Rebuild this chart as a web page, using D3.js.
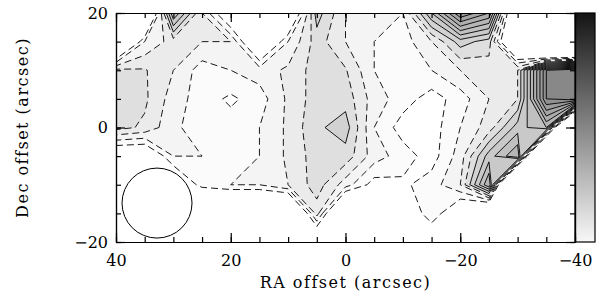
<!DOCTYPE html>
<meta charset="utf-8">
<style>
body { margin: 0; background: #fff; }
text { font-family: "DejaVu Serif", serif; font-size: 16px; fill: #000; }
.title { letter-spacing: 1.5px; }
.band-line { fill: none; stroke: #000; stroke-width: 0.9; }
.frame path, .frame line { stroke: #000; stroke-width: 1.2; }
</style>
<svg width="613" height="295"></svg>
<script src="https://d3js.org/d3.v7.min.js"></script>
<script>

// map grid: RA offsets (columns) and Dec offsets (rows), arcsec
var raOffsets = [40, 35, 30, 25, 20, 15, 10, 5, 0, -5, -10, -15, -20, -25, -30, -35, -40];
var decOffsets = [20, 15, 10, 5, 0, -5, -10, -15, -20];

// intensity per row (values well below -4 are outside the mapped area)
var dec20  = [-9, -9, 3, -2, -6, -9, -7, 0.5, -2, -3, -3, 2, 7, 5, -9, -9, -9];
var dec15  = [-9, -3, -1.5, -2, -2, -7, -3, -0.5, -2, -3, -3.5, -2, 0.5, -0.5, -9, -20, -20];
var dec10  = [-0.7, -0.9, -2, -3.5, -3, -2.5, -1.8, -0.5, -0.9, -3, -3.5, -3, -2, -1.5, -1, 8, 9];
var dec5   = [-0.5, -0.8, -2.5, -3.5, -4.2, -3.5, -1.8, -0.5, -0.4, -2.5, -3.5, -4.5, -3.5, -2, -1, 8, 9];
var dec0   = [-0.6, -1.2, -2.8, -3.5, -3.5, -3, -1.8, -0.2, 0.5, -3, -4.5, -4.5, -3, -1.5, 1.5, 3, -20];
var decm5  = [-6, -6, -3, -3, -3.5, -3, -1.8, -0.5, -0.4, -2.5, -3.5, -4.5, -2.5, 1.5, 4, -20, -20];
var decm10 = [-9, -9, -6, -3.5, -3, -3, -2, -0.5, -2.5, -4.5, -4.2, -3.5, -2, 4, -20, -20, -20];
var decm15 = [-9, -9, -9, -9, -9, -9, -9, -1.5, -9, -9, -6, -3, -6, -9, -9, -9, -9];
var decm20 = [-9, -9, -9, -9, -9, -9, -9, -7, -9, -9, -9, -6, -9, -9, -9, -9, -9];

var levels = [-4, -3, -2, -1, 0, 1, 2, 3, 4, 5, 6, 7, 8];

var beamCenter = [32.85, -13.2];
var beamRadius = 6.1;

var xMajor = [40, 20, 0, -20, -40];
var yMajor = [20, 0, -20];

var svg = d3.select("svg"),
    plotL = 116, plotR = 575, plotT = 13, plotB = 242;

var x = d3.scaleLinear().domain([40, -40]).range([plotL, plotR]);
var y = d3.scaleLinear().domain([20, -20]).range([plotT, plotB]);

var grid = [dec20, dec15, dec10, dec5, dec0, decm5, decm10, decm15, decm20];
var nx = raOffsets.length, ny = decOffsets.length;
var values = [].concat.apply([], grid);

var col = d3.scaleLinear().domain([0, nx - 1]).range([x(raOffsets[0]), x(raOffsets[nx - 1])]);
var row = d3.scaleLinear().domain([0, ny - 1]).range([y(decOffsets[0]), y(decOffsets[ny - 1])]);

function ringPath(ring) {
  return "M" + ring.map(p => col(p[0] - 0.5) + "," + row(p[1] - 0.5)).join("L") + "Z";
}
function bandPath(d) {
  return d.coordinates.map(poly => poly.map(ringPath).join("")).join("");
}

var bands = d3.contours().size([nx, ny]).thresholds(levels)(values);

var gray = d3.scaleLinear()
    .domain([-4, -3, -2, -1, 0, 8])
    .range(["#fbfbfb", "#f4f4f4", "#ebebeb", "#dfdfdf", "#d2d2d2", "#888888"]);

svg.append("clipPath").attr("id", "plot")
  .append("rect")
    .attr("x", plotL).attr("y", plotT)
    .attr("width", plotR - plotL).attr("height", plotB - plotT);

var map = svg.append("g").attr("clip-path", "url(#plot)");

map.selectAll("path.band")
  .data(bands)
  .join("path")
    .attr("class", "band")
    .attr("d", bandPath)
    .attr("fill", d => gray(d.value));

map.selectAll("path.band-line")
  .data(bands)
  .join("path")
    .attr("class", "band-line")
    .attr("d", bandPath)
    .attr("stroke-dasharray", d => d.value < 0 ? "7,4" : null);

// beam
svg.append("circle")
    .attr("cx", x(beamCenter[0]))
    .attr("cy", y(beamCenter[1]))
    .attr("r", x(40 - beamRadius) - x(40))
    .attr("fill", "none")
    .attr("stroke", "#000")
    .attr("stroke-width", 1);

// colour bar
var grad = svg.append("defs").append("linearGradient")
    .attr("id", "bar").attr("x1", 0).attr("y1", 1).attr("x2", 0).attr("y2", 0);
grad.selectAll("stop")
  .data(["#f8f8f8", "#141414"])
  .join("stop")
    .attr("offset", (d, i) => i)
    .attr("stop-color", d => d);

svg.append("rect")
    .attr("x", plotR).attr("y", plotT)
    .attr("width", 20).attr("height", plotB - plotT)
    .attr("fill", "url(#bar)")
    .attr("stroke", "#000")
    .attr("stroke-width", 1.2);

// axes: minor ticks every 5 arcsec, major every 20
var xMinor = d3.range(-40, 41, 5), yMinor = d3.range(-20, 21, 5);

function frame(axis, tx, ty, ticks, size, labelled) {
  var a = axis.tickValues(ticks).tickSize(-size).tickSizeOuter(0);
  if (!labelled) a.tickFormat("");
  return svg.append("g")
    .attr("class", "frame")
    .attr("transform", "translate(" + tx + "," + ty + ")")
    .call(a);
}

frame(d3.axisBottom(x), 0, plotB, xMinor, 5, false);
frame(d3.axisBottom(x).tickPadding(13), 0, plotB, xMajor, 9, true);
frame(d3.axisTop(x), 0, plotT, xMinor, 5, false);
frame(d3.axisTop(x), 0, plotT, xMajor, 9, false);
frame(d3.axisLeft(y), plotL, 0, yMinor, 5, false);
frame(d3.axisLeft(y).tickPadding(8), plotL, 0, yMajor, 9, true);
frame(d3.axisRight(y), plotR, 0, yMinor, 5, false);
frame(d3.axisRight(y), plotR, 0, yMajor, 9, false);

svg.append("text")
    .attr("class", "title")
    .attr("x", (plotL + plotR) / 2)
    .attr("y", 288)
    .attr("text-anchor", "middle")
    .text("RA offset (arcsec)");

svg.append("text")
    .attr("class", "title")
    .attr("transform", "translate(28," + (plotT + plotB) / 2 + ") rotate(-90)")
    .attr("text-anchor", "middle")
    .text("Dec offset (arcsec)");

</script>
